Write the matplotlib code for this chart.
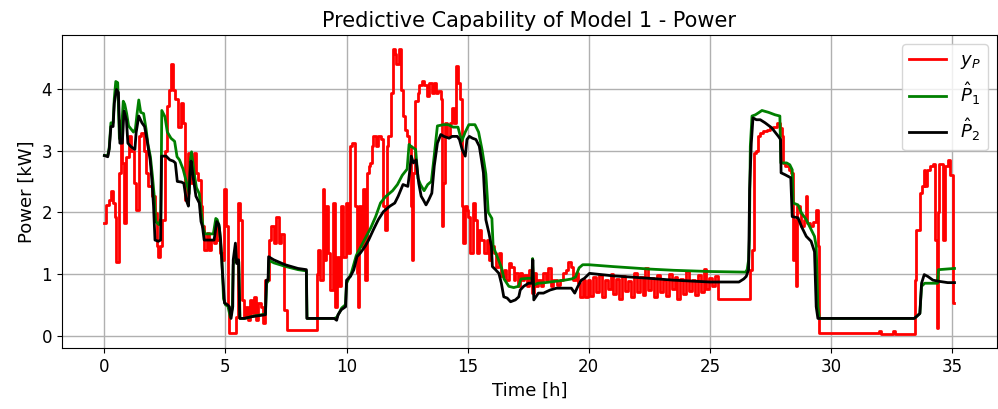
import matplotlib
matplotlib.use("Agg")
import matplotlib.pyplot as plt

# measured power y_P (step data, hours / kW)
red_t = [0, 0.07, 0.18, 0.27, 0.36, 0.45, 0.5, 0.6, 0.68, 0.74,
         0.81, 0.88, 1.01, 1.1, 1.22, 1.31, 1.42, 1.53, 1.62, 1.72,
         1.82, 1.96, 2.07, 2.16, 2.23, 2.31, 2.39, 2.5, 2.57, 2.66,
         2.74, 2.84, 2.93, 3.04, 3.15, 3.24, 3.34, 3.45, 3.58, 3.69,
         3.78, 3.88, 3.99, 4.05, 4.12, 4.22, 4.32, 4.42, 4.53, 4.6,
         4.66, 4.77, 4.86, 4.93, 5.04, 5.1,
         5.16, 5.43, 5.5, 5.59, 5.68, 5.77, 5.86, 5.95, 6.01, 6.1,
         6.18, 6.27, 6.35, 6.45, 6.55, 6.65, 6.78, 6.89, 6.99, 7.08,
         7.19, 7.3, 7.41, 7.53, 8.78, 8.84, 8.92, 9.01, 9.08, 9.15,
         9.24, 9.32, 9.42, 9.51, 9.59, 9.69, 9.78, 9.86, 9.96, 10.05,
         10.14, 10.23, 10.33, 10.41, 10.46, 10.53, 10.6, 10.68, 10.76, 10.84,
         10.91, 10.98, 11.04, 11.11, 11.22, 11.31, 11.42, 11.52, 11.59, 11.65,
         11.72, 11.82, 11.9, 11.99, 12.06, 12.17, 12.26, 12.33, 12.43, 12.51,
         12.57, 12.64, 12.71, 12.76, 12.83, 12.94, 13.01, 13.12, 13.21, 13.31,
         13.41, 13.52, 13.62, 13.69, 13.78, 13.88, 13.93, 13.98, 14.07, 14.16,
         14.25, 14.36, 14.43, 14.5, 14.59, 14.67, 14.77, 14.82, 14.9, 14.97,
         15.03, 15.11, 15.2, 15.3, 15.38, 15.48, 15.57, 15.68, 15.79, 15.88,
         15.98, 16.09, 16.18, 16.29, 16.39, 16.49, 16.6, 16.7, 16.79, 16.9,
         16.97, 17.07, 17.17, 17.24, 17.34, 17.45, 17.55, 17.65, 17.74, 17.83,
         17.92, 18.02, 18.13, 18.23, 18.33, 18.42, 18.53, 18.67, 18.8, 18.94,
         19.05, 19.14, 19.25, 19.35, 19.46, 19.55, 19.65, 19.76, 19.86, 19.96,
         20.06, 20.18, 20.3, 20.42, 20.54, 20.66, 20.78, 20.9, 21.02, 21.14,
         21.26, 21.38, 21.5, 21.62, 21.74, 21.86, 21.98, 22.1, 22.22, 22.34,
         22.46, 22.58, 22.7, 22.82, 22.94, 23.06, 23.18, 23.3, 23.42, 23.54,
         23.66, 23.78, 23.9, 24.02, 24.14, 24.26, 24.38, 24.5, 24.62, 24.74,
         24.86, 24.98, 25.1, 25.22,
         25.35, 26.67, 26.74, 26.81, 26.9, 26.98, 27.08, 27.21, 27.35, 27.49,
         27.62, 27.76, 27.89, 27.96, 28.03, 28.1, 28.26, 28.37, 28.44, 28.48,
         28.55, 28.61, 28.71, 28.78, 28.89, 28.95, 29.02, 29.12, 29.25, 29.39,
         29.48, 29.52,
         32.0, 32.08, 32.58, 32.66, 33.46, 33.53, 33.67, 33.76, 33.83, 33.9,
         33.97, 34.08, 34.21, 34.28, 34.36, 34.42, 34.48, 34.62, 34.69, 34.85,
         34.93, 35.03, 35.1]
red_v = [1.82, 2.12, 2.2, 2.34, 2.15, 1.93, 1.2, 2.64, 3.5, 2.8,
         1.82, 2.9, 3.23, 3.0, 2.47, 2.04, 3.23, 3.29, 3.0, 2.64,
         2.42, 2.26, 1.99, 1.45, 1.28, 1.45, 1.88, 3.0, 3.72, 3.99,
         4.4, 3.99, 3.83, 3.39, 3.77, 3.45, 2.2, 2.96, 2.47, 2.96,
         2.64, 2.53, 2.1, 1.77, 1.39, 1.66, 1.39, 1.55, 1.5, 1.77,
         1.55, 1.34, 1.23, 2.37, 1.77, 0.47,
         0.04, 0.3, 2.15, 1.88, 0.58, 0.31, 0.47, 0.25, 0.58, 0.36,
         0.63, 0.25, 0.53, 0.47, 0.2, 0.9, 1.55, 1.77, 1.5, 1.93,
         1.5, 1.64, 0.42, 0.1, 1.0, 1.39, 0.9, 2.37, 1.23, 2.1,
         1.34, 0.74, 2.15, 0.47, 1.28, 0.8, 2.1, 1.28, 2.15, 1.34,
         3.07, 3.12, 2.1, 1.01, 0.47, 2.1, 1.45, 2.37, 0.9, 2.64,
         2.75, 2.8, 3.07, 3.23, 3.07, 3.23, 3.18, 2.1, 1.72, 3.07,
         3.23, 3.94, 4.64, 4.56, 4.4, 4.64, 3.99, 3.56, 3.34, 3.23,
         3.07, 2.1, 1.23, 2.64, 3.8, 3.94, 4.07, 4.13, 4.07, 3.88,
         4.1, 3.94, 4.1, 3.94, 3.96, 3.83, 1.77, 2.47, 3.45, 3.23,
         3.45, 3.69, 3.45, 4.37, 4.1, 3.83, 2.1, 1.5, 2.1, 2.04,
         1.93, 1.34, 2.15, 1.88, 1.34, 1.72, 1.55, 1.34, 1.55, 1.23,
         1.45, 1.34, 1.12, 1.34, 0.96, 1.07, 0.9, 1.17, 1.12, 0.9,
         1.01, 0.8, 1.01, 0.9, 0.99, 0.8, 1.07, 0.69, 1.01, 0.8,
         0.9, 0.8, 1.01, 0.9, 1.09, 0.8, 0.9, 0.82, 0.9, 1.01,
         1.07, 1.2, 1.12, 0.9, 1.01, 0.85, 0.63, 0.9, 0.63, 0.9,
         0.65, 0.95, 0.7, 0.98, 0.62, 0.9, 0.75, 1.0, 0.68, 0.92,
         0.6, 0.97, 0.72, 0.88, 0.63, 1.02, 0.7, 0.95, 0.66, 1.1,
         0.74, 0.93, 0.62, 0.98, 0.7, 0.9, 0.64, 1.0, 0.76, 0.95,
         0.6, 0.92, 0.68, 1.05, 0.72, 0.9, 0.66, 0.98, 0.7, 1.08,
         0.75, 0.94, 0.8, 0.96,
         0.6, 1.07, 1.39, 2.96, 3.0, 3.23, 3.29, 3.31, 3.34, 3.37,
         3.39, 3.45, 3.37, 3.23, 2.8, 2.75, 2.69, 2.64, 1.23, 1.88,
         0.8, 2.1, 1.99, 1.77, 1.88, 2.26, 1.82, 1.77, 1.85, 2.04,
         1.45, 0.04,
         0.08, 0.03, 0.08, 0.03, 0.9, 1.72, 2.31, 2.42, 2.69, 2.42,
         2.69, 2.75, 2.78, 1.55, 0.12, 2.0, 2.78, 1.55, 2.75, 2.85,
         2.6, 0.53, 0.53]

# model 1 prediction
green_t = [0, 0.14, 0.2, 0.27, 0.36, 0.41, 0.47, 0.55, 0.62, 0.68,
           0.78, 0.84, 0.92, 1.0, 1.1, 1.2, 1.28, 1.35, 1.42, 1.5,
           1.62, 1.72, 1.8, 1.9, 1.98, 2.05, 2.12, 2.25, 2.33, 2.37,
           2.5, 2.6, 2.75, 2.9, 3.0, 3.1, 3.25, 3.38, 3.5, 3.55,
           3.6, 3.7, 3.8, 3.92, 4.0, 4.08, 4.15, 4.5, 4.6, 4.66,
           4.75, 4.85, 4.92, 5.0, 5.1, 5.2, 5.28, 5.32, 5.4, 5.47,
           5.55, 5.6, 5.8, 6.2, 6.65, 6.7, 6.76, 6.8, 7.0, 7.5,
           8.0, 8.34, 8.37, 9.0, 9.5, 9.6, 9.8, 9.95, 10.0, 10.2,
           10.4, 10.6, 10.8, 11.0, 11.2, 11.4, 11.6, 11.9, 12.1, 12.3,
           12.5, 12.58, 12.65, 12.85, 12.95, 13.05, 13.2, 13.35, 13.5, 13.6,
           13.75, 14.0, 14.2, 14.4, 14.6, 14.75, 14.9, 15.05, 15.3, 15.45,
           15.6, 15.75, 15.85, 16.0, 16.05, 16.2, 16.4, 16.5, 16.7, 16.9,
           17.1, 17.2, 17.5, 17.65, 17.68, 17.72, 17.9, 18.2, 18.6, 19.0,
           19.3, 19.45, 19.5, 19.6, 19.75, 20.0, 21.0, 22.5, 23.5, 25.0,
           26.47, 26.54, 26.6, 26.63, 26.67, 26.74, 26.88, 27.0, 27.15, 27.42,
           27.69, 27.89, 27.93, 28.17, 28.3, 28.4, 28.44, 28.64, 28.78, 28.98,
           29.18, 29.32, 29.39, 29.46, 29.52, 33.44, 33.53, 33.67, 33.74, 33.87,
           34.4, 34.44, 35.1]
green_v = [2.92, 2.92, 3.05, 3.45, 3.45, 3.85, 4.12, 4.1, 3.2, 3.15,
           3.8, 3.75, 3.6, 3.4, 3.35, 3.3, 3.35, 3.6, 3.82, 3.62,
           3.6, 3.35, 3.1, 2.9, 2.6, 2.3, 1.85, 1.8, 1.9, 3.65,
           3.55, 3.3, 3.2, 3.15, 2.9, 2.85, 2.7, 2.5, 2.3, 2.85,
           2.98, 2.65, 2.4, 2.3, 2.0, 1.75, 1.65, 1.65, 1.9, 1.88,
           1.75, 1.25, 0.6, 0.5, 0.48, 0.3, 0.45, 1.15, 1.3, 1.2,
           1.2, 0.28, 0.28, 0.32, 0.35, 0.85, 0.88, 1.22, 1.18, 1.12,
           1.07, 1.05, 0.28, 0.28, 0.28, 0.3, 0.45, 0.5, 0.85, 1.02,
           1.3, 1.45, 1.6, 1.75, 1.93, 2.15, 2.25, 2.35, 2.45, 2.6,
           2.7, 3.1, 3.07, 3.02, 2.55, 2.45, 2.35, 2.45, 2.5, 2.85,
           3.4, 3.42, 3.42, 3.38, 3.38, 3.15, 3.3, 3.42, 3.42, 3.3,
           3.0, 2.62, 2.0, 1.9, 1.45, 1.3, 1.1, 0.92, 0.8, 0.78,
           0.8, 0.92, 0.93, 0.93, 1.25, 0.82, 0.85, 0.86, 0.88, 0.9,
           0.92, 0.95, 1.0, 1.1, 1.15, 1.15, 1.12, 1.08, 1.06, 1.04,
           1.03, 1.07, 1.23, 1.55, 3.07, 3.56, 3.58, 3.61, 3.65, 3.62,
           3.58, 3.56, 2.8, 2.8, 2.77, 2.69, 2.15, 2.12, 1.99, 1.88,
           1.72, 1.61, 1.45, 0.47, 0.28, 0.28, 0.31, 0.36, 0.8, 0.85,
           0.85, 1.07, 1.09]

# model 2 prediction
black_t = [0, 0.14, 0.2, 0.27, 0.36, 0.41, 0.5, 0.58, 0.64, 0.74,
           0.81, 0.91, 0.97, 1.08, 1.18, 1.26, 1.31, 1.42, 1.55, 1.66,
           1.76, 1.82, 1.89, 1.96, 2.03, 2.09, 2.23, 2.32, 2.36, 2.55,
           2.7, 2.84, 2.93, 3.01, 3.18, 3.28, 3.38, 3.47, 3.54, 3.58,
           3.68, 3.78, 3.92, 3.99, 4.05, 4.12, 4.53, 4.64, 4.73, 4.8,
           4.86, 4.96, 5.09, 5.16, 5.23, 5.3, 5.32, 5.41, 5.46, 5.54,
           5.59, 5.77, 6.11, 6.65, 6.69, 6.76, 6.78, 6.99, 7.46, 7.99,
           8.34, 8.36, 9.49, 9.59, 9.65, 9.78, 9.96, 10.0, 10.16, 10.3,
           10.43, 10.57, 10.77, 10.91, 11.11, 11.31, 11.52, 11.79, 11.99, 12.13,
           12.33, 12.53, 12.6, 12.67, 12.76, 12.87, 12.98, 13.08, 13.17, 13.28,
           13.39, 13.52, 13.62, 13.75, 13.89, 14.02, 14.23, 14.36, 14.57, 14.66,
           14.77, 14.9, 14.97, 15.07, 15.2, 15.34, 15.48, 15.57, 15.65, 15.75,
           15.88, 15.98, 16.02, 16.15, 16.29, 16.39, 16.49, 16.63, 16.77, 16.97,
           17.11, 17.17, 17.31, 17.51, 17.65, 17.69, 17.73, 17.92, 18.13, 18.4,
           18.67, 19.08, 19.28, 19.42, 19.55, 19.69, 19.82, 20.03, 21.0, 22.5,
           23.5, 25.0, 26.2, 26.4, 26.5, 26.6, 26.64, 26.71, 26.78, 26.92,
           27.08, 27.28, 27.55, 27.83, 27.92, 27.94, 28.1, 28.34, 28.4, 28.64,
           28.78, 28.98, 29.18, 29.32, 29.39, 29.46, 33.44, 33.53, 33.67, 33.74,
           33.85, 34.0, 34.21, 34.48, 34.82, 35.1]
black_v = [2.92, 2.9, 3.02, 3.39, 3.39, 3.77, 3.99, 3.94, 3.12, 3.12,
           3.64, 3.5, 3.12, 3.07, 3.04, 3.02, 3.29, 3.56, 3.45, 3.39,
           3.18, 3.02, 2.85, 2.53, 2.1, 1.55, 1.53, 1.55, 2.91, 2.91,
           2.85, 2.83, 2.8, 2.5, 2.49, 2.47, 2.2, 2.1, 2.64, 2.83,
           2.53, 2.26, 2.15, 1.85, 1.77, 1.55, 1.55, 1.85, 1.8, 1.55,
           1.12, 0.53, 0.5, 0.47, 0.28, 0.47, 1.23, 1.5, 1.17, 1.23,
           0.28, 0.28, 0.31, 0.34, 0.9, 0.9, 1.28, 1.23, 1.15, 1.09,
           1.07, 0.28, 0.28, 0.25, 0.34, 0.42, 0.47, 0.9, 0.96, 1.07,
           1.28, 1.34, 1.45, 1.55, 1.72, 1.88, 2.01, 2.1, 2.15, 2.26,
           2.45, 2.42, 2.64, 2.91, 2.8, 2.85, 2.47, 2.26, 2.2, 2.12,
           2.2, 2.31, 2.75, 3.12, 3.26, 3.23, 3.2, 3.23, 3.23, 3.18,
           3.02, 2.91, 3.18, 3.23, 3.2, 3.18, 3.07, 2.85, 2.64, 1.88,
           1.66, 1.45, 1.12, 1.07, 1.01, 0.85, 0.63, 0.61, 0.55, 0.58,
           0.63, 0.74, 0.8, 0.85, 0.85, 1.23, 0.58, 0.69, 0.69, 0.74,
           0.77, 0.77, 0.77, 0.69, 0.8, 0.9, 0.93, 1.01, 0.97, 0.93,
           0.9, 0.87, 0.87, 0.92, 0.96, 1.07, 2.37, 3.12, 3.53, 3.5,
           3.5, 3.45, 3.37, 3.23, 3.18, 2.64, 2.61, 2.56, 1.93, 1.91,
           1.77, 1.61, 1.53, 1.36, 0.47, 0.28, 0.28, 0.31, 0.36, 0.85,
           0.99, 0.96, 0.9, 0.88, 0.86, 0.86]

fig, ax = plt.subplots(figsize=(9.98, 4.09), dpi=100)
fig.subplots_adjust(left=0.062, right=0.999, top=0.914, bottom=0.149)

ax.plot(red_t, red_v, color="red", lw=2, drawstyle="steps-post", label="$y_P$")
ax.plot(green_t, green_v, color="green", lw=2, label=r"$\hat{P}_1$")
ax.plot(black_t, black_v, color="black", lw=2, label=r"$\hat{P}_2$")

ax.set_title("Predictive Capability of Model 1 - Power", fontsize=15)
ax.set_xlabel("Time [h]", fontsize=13)
ax.set_ylabel("Power [kW]", fontsize=13)
ax.tick_params(labelsize=12)
ax.set_xticks([0, 5, 10, 15, 20, 25, 30, 35])
ax.grid(True, color="#b0b0b0", lw=1)
ax.legend(loc="upper right", fontsize=13)

fig.savefig("out.png", dpi=100)
